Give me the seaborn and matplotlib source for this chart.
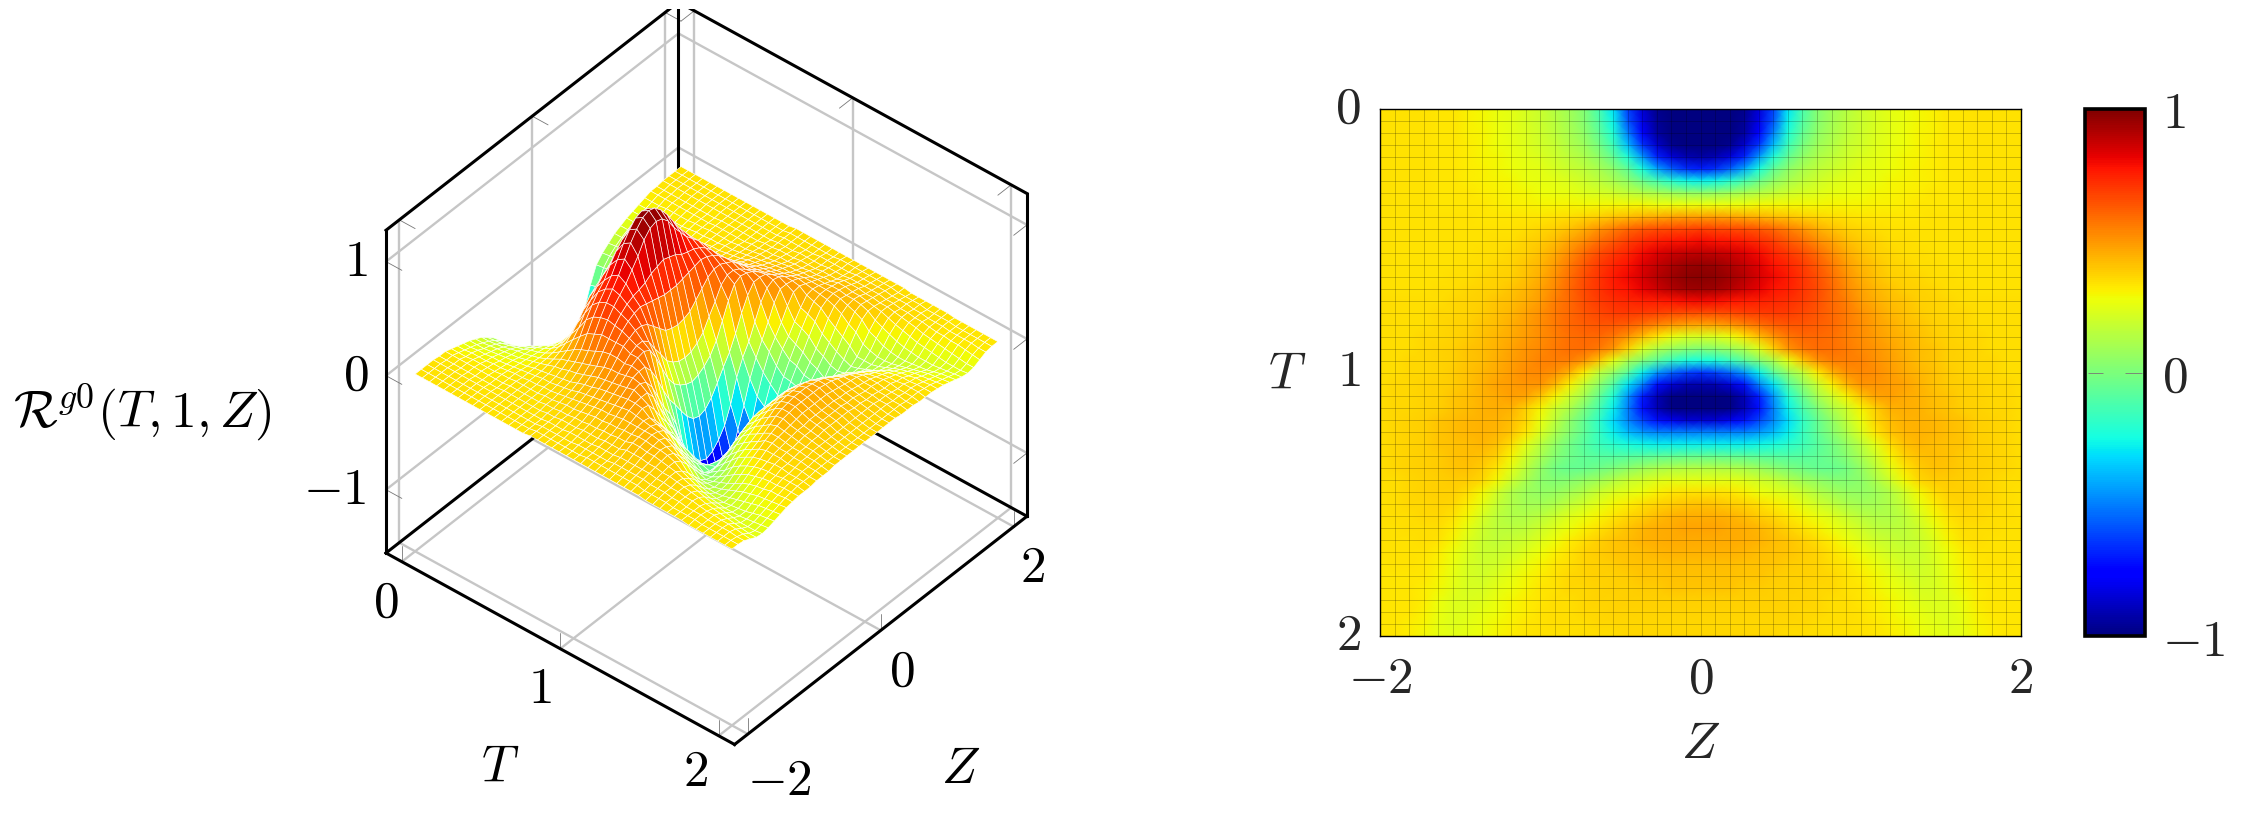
import numpy as np
import pandas as pd
import matplotlib
matplotlib.use("Agg")
import matplotlib.pyplot as plt
import seaborn as sns
from matplotlib.colors import Normalize
from mpl_toolkits.mplot3d import proj3d

# colour value (colorbar scale, in hundredths) for Z = -2 .. 0, one row per T step
half_rows = [
    [34,34,34,34,33,33,31,29,27,25,22,19,14,9,2,-12,-30,-62,-85,-97,-100,-100,-100],
    [34,34,34,34,33,33,31,29,27,25,22,19,15,10,3,-10,-27,-58,-82,-96,-100,-100,-100],
    [34,34,34,34,33,33,31,30,28,25,23,20,16,11,5,-6,-22,-50,-76,-94,-100,-100,-100],
    [34,34,34,34,33,33,32,30,28,26,24,21,18,13,8,-1,-15,-38,-65,-86,-97,-100,-100],
    [34,34,34,34,33,33,32,30,29,27,25,23,20,16,12,5,-6,-22,-45,-68,-84,-91,-93],
    [34,34,34,34,33,33,32,31,29,28,26,25,22,19,16,11,4,-7,-24,-42,-57,-66,-69],
    [34,34,34,34,33,33,32,31,30,29,27,26,25,23,20,16,11,5,-4,-13,-21,-26,-28],
    [34,34,34,34,33,33,33,32,31,30,29,28,27,26,24,22,20,17,14,11,8,6,5],
    [34,34,34,34,33,33,33,33,32,31,31,30,30,30,29,29,29,29,29,28,28,28,28],
    [34,34,34,34,34,34,34,33,33,33,33,33,34,35,36,38,40,42,44,46,47,48,48],
    [34,34,34,34,34,34,34,34,34,34,35,36,38,41,45,50,55,60,63,65,66,67,68],
    [34,34,34,34,34,34,34,34,35,35,37,39,42,47,52,58,63,68,72,75,77,78,79],
    [34,34,34,34,34,34,34,35,35,36,38,41,46,52,59,65,70,74,79,83,86,88,89],
    [34,34,34,34,34,34,35,35,36,37,40,43,49,56,63,69,74,78,83,88,92,95,96],
    [34,34,34,34,34,35,35,36,37,38,41,45,51,58,65,71,76,80,85,90,94,97,98],
    [34,34,34,34,35,35,36,37,38,40,43,47,53,60,66,71,75,78,82,86,91,94,95],
    [35,35,35,35,35,36,37,38,40,42,45,49,55,60,65,69,72,74,75,76,78,79,80],
    [35,35,35,35,36,36,37,39,41,43,47,51,56,60,64,67,69,70,69,68,67,66,66],
    [35,35,35,35,36,37,38,40,42,45,48,52,56,60,62,64,64,62,58,54,50,48,47],
    [35,35,35,36,36,37,39,41,43,46,49,52,55,58,60,60,57,50,42,33,27,23,22],
    [35,35,35,36,37,38,40,42,44,47,50,53,56,58,59,57,50,38,24,14,8,4,2],
    [35,35,36,36,37,38,40,42,45,48,51,54,55,55,50,40,26,12,2,-8,-17,-23,-25],
    [35,35,36,36,37,39,41,43,46,49,52,53,51,44,32,17,6,-8,-28,-45,-55,-62,-65],
    [35,36,36,37,38,39,41,44,47,49,50,50,43,31,18,5,-10,-30,-50,-72,-85,-91,-92],
    [35,36,36,37,38,40,42,44,46,48,47,40,30,20,10,-5,-22,-46,-70,-90,-99,-100,-100],
    [35,36,36,37,38,40,42,44,45,44,38,30,20,12,0,-12,-28,-50,-72,-90,-99,-100,-100],
    [35,36,37,38,40,42,43,44,44,42,36,27,16,5,-6,-18,-32,-48,-62,-72,-80,-85,-85],
    [35,36,37,38,40,42,43,44,43,40,33,23,12,3,-7,-17,-28,-38,-45,-49,-50,-50,-50],
    [35,36,37,38,40,41,42,43,41,35,25,15,6,-2,-9,-15,-20,-24,-26,-28,-28,-28,-28],
    [35,36,37,38,39,41,42,41,38,30,20,11,3,-3,-7,-9,-10,-9,-8,-7,-6,-5,-5],
    [35,36,37,38,39,40,41,39,33,25,15,6,-2,-5,-5,-3,0,4,8,11,13,14,14],
    [35,35,36,37,38,39,39,36,29,20,11,4,2,3,6,9,14,18,21,24,25,25,25],
    [34,35,36,37,38,38,35,29,21,13,8,6,7,10,14,19,23,25,28,31,33,34,34],
    [34,35,36,36,37,36,32,26,18,13,10,10,12,17,21,25,29,32,35,37,39,40,41],
    [34,35,35,36,36,34,29,22,16,13,13,15,19,24,27,30,33,36,39,42,44,45,45],
    [34,34,35,35,35,32,26,20,16,15,16,20,24,28,31,34,37,40,43,45,46,47,47],
    [34,34,34,35,34,30,24,19,17,18,20,24,28,32,35,38,40,42,44,45,46,46,46],
    [34,34,34,34,32,28,23,19,19,21,24,28,31,34,37,39,40,41,42,43,44,44,44],
    [33,34,34,33,31,27,22,20,21,24,27,30,33,35,37,38,39,40,41,41,42,42,42],
    [33,33,33,33,30,26,22,21,23,26,29,32,34,36,37,38,38,39,40,40,41,41,41],
    [33,33,33,32,29,25,22,22,25,28,30,33,34,36,36,37,38,38,39,39,40,40,40],
    [33,33,33,32,28,24,23,24,27,29,32,33,35,35,36,37,37,38,38,38,38,38,38],
    [33,33,33,31,27,24,24,26,28,30,32,34,35,35,36,36,37,37,37,37,37,37,37],
    [33,33,32,30,26,24,25,27,29,31,33,34,35,35,35,36,36,36,36,36,36,36,36],
    [33,33,32,29,26,25,26,28,30,32,33,34,34,34,35,35,35,36,36,36,36,36,36],
]

# colour value -> surface height, read by comparing both panels
colour_levels = [-1.0, -0.78, -0.25, 0.0, 0.25, 0.34, 0.5, 0.75, 0.9, 1.0]
height_levels = [-1.15, -1.0, -0.55, -0.3, -0.08, 0.0, 0.18, 0.55, 0.85, 1.05]

t_ticks = [0, 1, 2]
z_ticks = [-2, 0, 2]
h_ticks = [-1, 0, 1]
cbar_ticks = [-1, 0, 1]

t_lim = (-0.1, 2.1)
z_lim = (-2.2, 2.2)
h_lim = (-1.555, 1.275)

W, H = 2242, 817


def rect(x0, y0, x1, y1):
    return [x0 / W, 1 - y1 / H, (x1 - x0) / W, (y1 - y0) / H]


def label(fig, x, y, s, **kw):
    fig.text(x / W, 1 - y / H, s, fontsize=37, ha="center", va="center", color="black", **kw)


def screen(ax, t, z, h):
    x, y, _ = proj3d.proj_transform(t, z, h, ax.get_proj())
    return ax.transData.transform((x, y))


def fit_axes(fig, ax, side, cx, cy):
    # move/scale the square 3d axes so the box corners land on the wanted pixels
    for _ in range(3):
        ax.set_position(rect(cx - side / 2, cy - side / 2, cx + side / 2, cy + side / 2))
        fig.canvas.draw()
        left = screen(ax, t_lim[0], z_lim[0], h_lim[0])
        right = screen(ax, t_lim[1], z_lim[1], h_lim[0])
        side = side * (1027 - 386) / (right[0] - left[0])
        cx = cx + 386 - left[0]
        cy = cy + 553 - (H - left[1])
    ax.set_position(rect(cx - side / 2, cy - side / 2, cx + side / 2, cy + side / 2))


def box_3d(ax):
    grey = dict(color="#c6c6c6", lw=1.7, zorder=1)
    black = dict(color="black", lw=2.2, zorder=2, solid_capstyle="projecting")
    tick = dict(color="#777777", lw=0.6, zorder=2)
    t0, t1 = t_lim
    z0, z1 = z_lim
    h0, h1 = h_lim

    for t in t_ticks:
        ax.plot([t, t], [z0, z1], [h0, h0], **grey)
        ax.plot([t, t], [z1, z1], [h0, h1], **grey)
        ax.plot([t, t], [z1, z1 - 0.2], [h1, h1], **tick)
        ax.plot([t, t], [z0, z0], [h0, h0 + 0.14], **tick)
    for z in z_ticks:
        ax.plot([t0, t1], [z, z], [h0, h0], **grey)
        ax.plot([t0, t0], [z, z], [h0, h1], **grey)
        ax.plot([t0, t0 + 0.1], [z, z], [h1, h1], **tick)
        ax.plot([t1, t1], [z, z], [h0, h0 + 0.14], **tick)
    for h in h_ticks:
        ax.plot([t0, t0], [z0, z1], [h, h], **grey)
        ax.plot([t0, t1], [z1, z1], [h, h], **grey)
        ax.plot([t0, t0 + 0.1], [z0, z0], [h, h], **tick)
        ax.plot([t1, t1], [z1, z1 - 0.2], [h, h], **tick)

    ax.plot([t0, t0], [z0, z0], [h0, h1], **black)
    ax.plot([t0, t0], [z1, z1], [h0, h1], **black)
    ax.plot([t1, t1], [z1, z1], [h0, h1], **black)
    ax.plot([t0, t0], [z0, z1], [h1, h1], **black)
    ax.plot([t0, t1], [z1, z1], [h1, h1], **black)
    ax.plot([t0, t0], [z0, z1], [h0, h0], **black)
    ax.plot([t0, t1], [z1, z1], [h0, h0], **black)
    ax.plot([t0, t1], [z0, z0], [h0, h0], **black)
    ax.plot([t1, t1], [z0, z1], [h0, h0], **black)


def main():
    sns.set_theme(style="white")
    plt.rcParams["mathtext.fontset"] = "cm"

    half = np.array(half_rows) / 100
    values = np.hstack([half, half[:, -2::-1]])
    n_t, n_z = values.shape
    t_vals = np.linspace(0, 2, n_t)
    z_vals = np.linspace(-2, 2, n_z)
    df = pd.DataFrame(values, index=t_vals, columns=z_vals)

    fig = plt.figure(figsize=(W / 100, H / 100), dpi=100, facecolor="white")

    # left panel, surface
    ax3 = fig.add_axes(rect(200, -100, 1200, 900), projection="3d", computed_zorder=False)
    ax3.set_proj_type("ortho")
    ax3.view_init(elev=40.9, azim=-50)
    ax3.set_box_aspect((455, 455, 427))
    ax3.set_xlim(*t_lim)
    ax3.set_ylim(*z_lim)
    ax3.set_zlim(*h_lim)
    ax3.set_axis_off()
    ax3.patch.set_alpha(0)
    box_3d(ax3)

    heights = np.interp(values, colour_levels, height_levels)
    tt, zz = np.meshgrid(t_vals, z_vals, indexing="ij")
    norm = Normalize(-1, 1)
    cells = values.copy()
    cells[:-1, :-1] = (values[:-1, :-1] + values[1:, :-1] + values[:-1, 1:] + values[1:, 1:]) / 4
    surf = ax3.plot_surface(tt, zz, heights, facecolors=plt.get_cmap("jet")(norm(cells)),
                            rstride=1, cstride=1, shade=False, zorder=3)
    surf.set_edgecolor("white")
    surf.set_linewidth(0.45)
    fit_axes(fig, ax3, 1000, 700, 400)

    # right panel, heat map
    ax = fig.add_axes(rect(1380, 109, 2021, 636))
    cax = fig.add_axes(rect(2085, 109, 2145, 636))
    sns.heatmap(df, ax=ax, cbar_ax=cax, cmap="jet", vmin=-1, vmax=1, shading="gouraud",
                xticklabels=False, yticklabels=False)
    ax.set_xlim(0, n_z - 1)
    ax.set_ylim(n_t - 1, 0)
    ax.vlines(np.arange(1, n_z - 1), 0, n_t - 1, color="black", alpha=0.25, lw=0.6)
    ax.hlines(np.arange(1, n_t - 1), 0, n_z - 1, color="black", alpha=0.25, lw=0.6)
    for s in ax.spines.values():
        s.set_visible(True)
        s.set_color("black")
        s.set_linewidth(1.0)

    ax.set_xticks([(z + 2) / 4 * (n_z - 1) for z in z_ticks])
    ax.set_xticklabels([f"${z}$" for z in z_ticks], fontsize=37)
    ax.set_yticks([t / 2 * (n_t - 1) for t in t_ticks])
    ax.set_yticklabels([f"${t}$" for t in t_ticks], fontsize=37, rotation=0, va="center")
    ax.tick_params(axis="x", length=0, pad=13, rotation=0)
    ax.tick_params(axis="y", length=0, pad=14)
    ax.set_xlabel("$Z$", fontsize=37)
    ax.set_ylabel("$T$", fontsize=37, rotation=0)
    ax.xaxis.set_label_coords(0.5, -0.205)
    ax.yaxis.set_label_coords(-0.145, 0.495)
    ax.yaxis.label.set_va("center")
    ax.xaxis.label.set_va("center")

    cb = ax.collections[0].colorbar
    cb.set_ticks(cbar_ticks)
    cb.set_ticklabels([f"${c}$" for c in cbar_ticks], fontsize=37)
    cb.ax.tick_params(length=0, pad=12, labelsize=37)
    cb.outline.set_visible(True)
    cb.outline.set_edgecolor("black")
    cb.outline.set_linewidth(2.6)
    cax.hlines([0, 0], [0.05, 0.66], [0.3, 0.95], transform=cax.get_yaxis_transform(),
               color="#777777", lw=0.6)

    # left panel, texts
    for x, y, s in zip((356, 356, 335), (262, 376, 490), h_ticks[::-1]):
        label(fig, x, y, f"${s}$")
    for x, y, s in zip((386, 540, 696), (603, 689, 772), t_ticks):
        label(fig, x, y, f"${s}$")
    for x, y, s in zip((779, 902, 1032), (781, 672, 568), z_ticks):
        label(fig, x, y, f"${s}$")
    label(fig, 500, 768, "$T$")
    label(fig, 961, 769, "$Z$")
    label(fig, 142, 412, r"$\mathcal{R}^{g0}(T,1,Z)$")

    fig.savefig("out.png", dpi=100)
    plt.close(fig)


if __name__ == "__main__":
    main()
